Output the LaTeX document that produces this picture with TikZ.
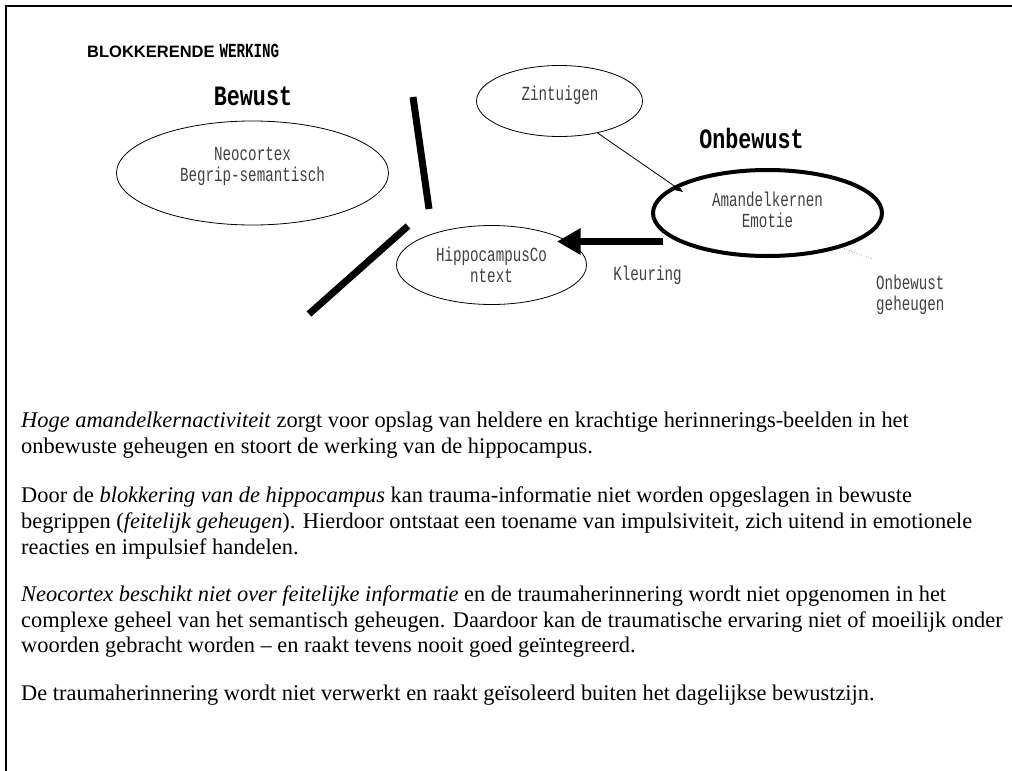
\documentclass[tikz,border=0pt]{standalone}
\usepackage{fontspec}
\setmainfont{Liberation Serif}
\newfontfamily\monolab[FakeStretch=0.71]{Liberation Mono}
\newfontfamily\monohead[FakeStretch=0.775]{Liberation Mono}
\newfontfamily\sanshead{Liberation Sans}
\usetikzlibrary{shapes.geometric,arrows.meta,calc}

\begin{document}
\begin{tikzpicture}[x=1pt,y=-1pt,
  frame/.style={line width=2pt},
  zone/.style={draw, ellipse, line width=0.8pt, inner sep=0pt},
  lbl/.style={font=\fontsize{20}{21}\monolab, text=black!75, align=center, inner sep=0pt},
  heading/.style={font=\fontsize{28}{30}\monohead\bfseries, inner sep=0pt},
  blockbar/.style={line width=7pt},
  thinarrow/.style={line width=0.8pt, -{Triangle[length=8pt,width=6pt]}},
  bigarrow/.style={line width=7.7pt, -{Triangle[length=23.5pt,width=25pt]}},
  dotlink/.style={dotted, line width=0.6pt, black!60},
  body/.style={anchor=base west, inner sep=0pt, font=\fontsize{22.4}{25}\selectfont},
]
\useasboundingbox (0,0) rectangle (1012,771);

% page frame (top and left edges)
\draw[frame] (6,771) -- (6,6) -- (1012,6);

% title
\node[anchor=base west, inner sep=0pt] (title) at (87,57)
  {{\fontsize{16.5}{17}\sanshead\bfseries BLOKKERENDE}\hspace{5pt}{\fontsize{20}{21}\monolab\bfseries WERKING}};

% headings
\node[heading] (bewust) at (253,96) {Bewust};
\node[heading] (onbewust) at (751.5,138) {Onbewust};

% brain regions
\node[zone, minimum width=272pt, minimum height=104pt] (neo) at (252.5,173) {};
\node[zone, minimum width=166pt, minimum height=71pt] (zint) at (559.5,101) {};
\node[zone, minimum width=190pt, minimum height=79pt] (hippo) at (491.5,265) {};
\node[zone, line width=4pt, minimum width=229pt, minimum height=86pt] (amandel) at (767.5,213) {};

\node[lbl] (neotxt) at (252.5,166) {Neocortex\\Begrip-semantisch};
\node[lbl] (zinttxt) at (560,95) {Zintuigen};
\node[lbl] (hippotxt) at (491.5,264.5) {HippocampusCo\\ntext};
\node[lbl] (amandeltxt) at (767.5,210) {Amandelkernen\\Emotie};
\node[lbl] (kleuring) at (647.5,275) {Kleuring};
\node[lbl, align=left, anchor=west] (geheugen) at (876,294.5) {Onbewust\\geheugen};

% blocking bars
\draw[blockbar] (413,97) -- (429,209);
\draw[blockbar] (408,226) -- (309,314);

% connections
\draw[thinarrow] (zint.-40) -- ($(amandel.center)+(-84.5,-21)$);
\draw[bigarrow] ($(amandel.center)+(-104.5,28.5)$) -- ($(hippo.center)+(65.5,-23.5)$);
\coordinate (geheugendot) at (872,259);
\draw[dotlink] (amandel.-25) -- (geheugendot);

% explanatory text
\node[body] (l1) at (21,427) {\textit{Hoge amandelkernactiviteit} zorgt voor opslag van heldere en krachtige herinnerings-beelden in het};
\node[body] (l2) at (21,453) {onbewuste geheugen en stoort de werking van de hippocampus.};
\node[body] (l3) at (21,502) {Door de \textit{blokkering van de hippocampus} kan trauma-informatie niet worden opgeslagen in bewuste};
\node[body] (l4) at (21,528) {begrippen (\textit{feitelijk geheugen}). Hierdoor ontstaat een toename van impulsiviteit, zich uitend in emotionele};
\node[body] (l5) at (21,554) {reacties en impulsief handelen.};
\node[body] (l6) at (21,601) {\textit{Neocortex beschikt niet over feitelijke informatie} en de traumaherinnering wordt niet opgenomen in het};
\node[body] (l7) at (21,627) {complexe geheel van het semantisch geheugen. Daardoor kan de traumatische ervaring niet of moeilijk onder};
\node[body] (l8) at (21,652) {woorden gebracht worden – en raakt tevens nooit goed geïntegreerd.};
\node[body] (l9) at (21,700) {De traumaherinnering wordt niet verwerkt en raakt geïsoleerd buiten het dagelijkse bewustzijn.};
\end{tikzpicture}
\end{document}
